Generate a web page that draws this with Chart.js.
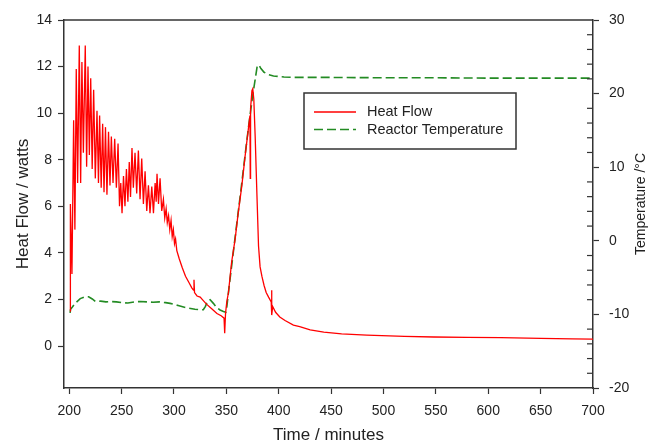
<!DOCTYPE html>
<html>
<head>
<meta charset="utf-8">
<script src="https://cdn.jsdelivr.net/npm/chart.js@4.4.0/dist/chart.umd.min.js"></script>
<style>
  html, body { margin: 0; padding: 0; background: #fff; }
</style>
</head>
<body>
<canvas id="heatChart" width="648" height="442"></canvas>
<script>
// Heat flow (left axis, watts) against time in minutes
const heatTime = [200.8, 201.1, 202.6, 204.2, 205.4, 206.7, 208.0, 209.6, 210.9, 212.1,
  213.5, 215.3, 216.6, 217.9, 219.2, 220.5, 221.9, 223.3, 224.9, 226.5,
  227.9, 229.0, 230.5, 231.9, 233.2, 234.6, 236.0, 237.5, 238.9, 240.2,
  241.8, 243.4, 245.0, 246.6, 248.0, 249.2, 250.4, 251.8, 253.2, 254.6,
  256.0, 257.3, 258.5, 259.9, 261.2, 262.8, 264.4, 266.0, 267.6, 269.2,
  270.8, 272.4, 274.0, 275.6, 277.1, 278.8, 280.4, 282.0, 283.0, 283.8,
  285.2, 286.7, 288.3, 289.9, 291.2, 292.5, 293.6, 294.8, 296.0, 297.2,
  298.3, 299.4, 300.5, 301.5, 302.7, 305, 308, 311, 314, 317,
  318.6, 319.1, 319.6, 322, 325, 328, 331, 336, 341, 345,
  347.8, 348.4, 349.2, 350.4, 352, 355, 358.4, 361, 364.8, 368,
  371.2, 372.5, 372.8, 373.1, 374.4, 375.2, 376.2, 377.5, 379.1, 380.7,
  382.2, 383.9, 386, 388, 390.3, 392.8, 393.1, 393.5, 394.2, 397,
  401, 406, 414, 420, 430, 443, 460, 484, 520, 548,
  580, 612, 650, 680, 700];
const heatFlow = [1.5, 6.1, 3.1, 9.7, 5.0, 11.9, 7.0, 12.9, 7.0, 12.2,
  8.3, 12.9, 7.7, 12.0, 8.2, 11.5, 7.6, 11.0, 7.2, 10.1,
  7.0, 9.9, 6.8, 9.55, 6.6, 9.4, 6.5, 9.2, 6.9, 9.0,
  7.0, 8.9, 6.8, 8.7, 6.0, 7.0, 5.7, 7.3, 6.0, 7.6,
  6.2, 7.9, 6.4, 8.5, 6.8, 8.3, 6.55, 8.4, 6.3, 8.05,
  6.1, 7.5, 5.8, 6.9, 5.7, 6.85, 5.7, 7.0, 6.2, 7.4,
  6.1, 7.2, 5.8, 6.3, 5.5, 5.9, 5.3, 5.6, 5.0, 5.4,
  4.7, 5.0, 4.4, 4.6, 4.1, 3.75, 3.35, 3.0, 2.75, 2.5,
  2.4, 2.85, 2.3, 2.15, 2.1, 1.95, 1.8, 1.6, 1.4, 1.3,
  1.2, 0.55, 1.4, 1.9, 2.3, 3.6, 4.6, 5.6, 6.9, 8.2,
  9.4, 9.9, 7.2, 10.2, 10.97, 11.05, 10.6, 9.0, 6.6, 4.3,
  3.4, 3.0, 2.6, 2.3, 2.1, 1.9, 2.4, 1.33, 1.7, 1.45,
  1.25, 1.1, 0.9, 0.83, 0.7, 0.6, 0.52, 0.47, 0.42, 0.39,
  0.37, 0.36, 0.33, 0.31, 0.30];

// Reactor temperature (right axis, deg C)
const tempTime = [200.8, 201.3, 203, 205.7, 210.5, 215, 218.5, 222, 225, 230,
  235, 240, 245, 250, 256, 262, 268, 274, 280, 286,
  292, 296.3, 304, 312, 320, 328, 330, 332, 334.5, 337.6,
  340.9, 344, 347.2, 349.5, 350.4, 352, 356, 360, 364, 368,
  371.2, 375, 379.4, 381, 383, 386, 390, 395, 405, 414,
  450, 500, 550, 600, 650, 700];
const reactorTemp = [-9.8, -9.3, -9.0, -8.5, -7.85, -7.6, -7.6, -7.9, -8.25, -8.2,
  -8.3, -8.25, -8.3, -8.4, -8.45, -8.3, -8.25, -8.3, -8.35, -8.3,
  -8.4, -8.5, -8.8, -9.1, -9.3, -9.37, -8.9, -8.2, -8.0, -8.5,
  -9.1, -9.4, -9.6, -9.7, -9.0, -7.0, -2.3, 2.4, 7.0, 11.8,
  15.5, 19.6, 23.7, 23.9, 23.4, 22.9, 22.6, 22.4, 22.25, 22.2,
  22.2, 22.15, 22.15, 22.1, 22.1, 22.1];

const timeTicks = [200, 250, 300, 350, 400, 450, 500, 550, 600, 650, 700];
const heatTicks = [0, 2, 4, 6, 8, 10, 12, 14];
const tempTicks = [-20, -10, 0, 10, 20, 30];

const FONT = "'Liberation Sans', Arial, sans-serif";
const INK = '#222';
const AXIS = '#333';

// top frame line, inward minor ticks on the right axis, legend box, right title
const extras = {
  id: 'extras',
  afterDraw(chart) {
    const { ctx, chartArea: a, scales } = chart;
    ctx.save();
    ctx.strokeStyle = AXIS;
    ctx.lineWidth = 1.5;
    ctx.beginPath();
    ctx.moveTo(a.left, a.top);
    ctx.lineTo(a.right, a.top);
    ctx.stroke();

    ctx.lineWidth = 1.2;
    const y1 = scales.y1;
    for (let v = y1.min; v <= y1.max; v += 2) {
      if (v % 10 === 0) continue;
      const py = y1.getPixelForValue(v);
      ctx.beginPath();
      ctx.moveTo(a.right - 6, py);
      ctx.lineTo(a.right, py);
      ctx.stroke();
    }

    // legend
    ctx.lineWidth = 1.5;
    ctx.strokeRect(304, 93, 212, 56);
    ctx.font = '14.5px ' + FONT;
    ctx.fillStyle = INK;
    ctx.textBaseline = 'middle';
    const rows = [112, 129.5];
    chart.data.datasets.forEach((ds, i) => {
      ctx.strokeStyle = ds.borderColor;
      ctx.lineWidth = ds.borderWidth;
      ctx.setLineDash(ds.borderDash || []);
      ctx.beginPath();
      ctx.moveTo(314, rows[i]);
      ctx.lineTo(356, rows[i]);
      ctx.stroke();
      ctx.setLineDash([]);
      ctx.fillText(ds.label, 367, rows[i]);
    });

    // right axis title reads bottom to top
    ctx.translate(641, (a.top + a.bottom) / 2);
    ctx.rotate(-Math.PI / 2);
    ctx.textAlign = 'center';
    ctx.font = '14px ' + FONT;
    ctx.fillText('Temperature /\u00B0C', 0, 0);
    ctx.restore();
  }
};

new Chart(document.getElementById('heatChart'), {
  type: 'line',
  data: {
    datasets: [
      {
        label: 'Heat Flow',
        data: heatTime.map((t, i) => ({ x: t, y: heatFlow[i] })),
        borderColor: '#ff0000',
        borderWidth: 1.3,
        pointRadius: 0,
        tension: 0,
        yAxisID: 'y'
      },
      {
        label: 'Reactor Temperature',
        data: tempTime.map((t, i) => ({ x: t, y: reactorTemp[i] })),
        borderColor: '#238b23',
        borderWidth: 1.6,
        borderDash: [9, 4],
        pointRadius: 0,
        tension: 0,
        yAxisID: 'y1'
      }
    ]
  },
  options: {
    responsive: false,
    animation: false,
    layout: { padding: { top: 20, left: 0, right: 0, bottom: 0 } },
    plugins: { legend: { display: false }, tooltip: { enabled: false } },
    scales: {
      x: {
        type: 'linear',
        min: 195,
        max: 700,
        afterBuildTicks: s => { s.ticks = timeTicks.map(v => ({ value: v })); },
        afterFit: s => { s.height = 54; },
        grid: { drawOnChartArea: false, tickLength: 6, tickColor: AXIS, tickWidth: 1.2 },
        border: { color: AXIS, width: 1.5 },
        ticks: { color: INK, font: { family: FONT, size: 14 }, padding: 9, maxRotation: 0 },
        title: {
          display: true, text: 'Time / minutes', color: INK,
          font: { family: FONT, size: 17, lineHeight: 0.73 }, padding: 0
        }
      },
      y: {
        position: 'left',
        min: -1.8,
        max: 14,
        afterBuildTicks: s => { s.ticks = heatTicks.map(v => ({ value: v })); },
        afterFit: s => { s.width = 64; },
        grid: { drawOnChartArea: false, tickLength: 6, tickColor: AXIS, tickWidth: 1.2 },
        border: { color: AXIS, width: 1.5 },
        ticks: { color: INK, font: { family: FONT, size: 14 }, padding: 6 },
        title: {
          display: true, text: 'Heat Flow / watts', color: INK,
          font: { family: FONT, size: 17 }, padding: { top: 13, bottom: 0 }
        }
      },
      y1: {
        position: 'right',
        min: -20,
        max: 30,
        afterBuildTicks: s => { s.ticks = tempTicks.map(v => ({ value: v })); },
        afterFit: s => { s.width = 55; },
        grid: { drawOnChartArea: false, tickLength: 6, tickColor: AXIS, tickWidth: 1.2 },
        border: { color: AXIS, width: 1.5 },
        ticks: { color: INK, font: { family: FONT, size: 14 }, padding: 10 }
      }
    }
  },
  plugins: [extras]
});
</script>
</body>
</html>
